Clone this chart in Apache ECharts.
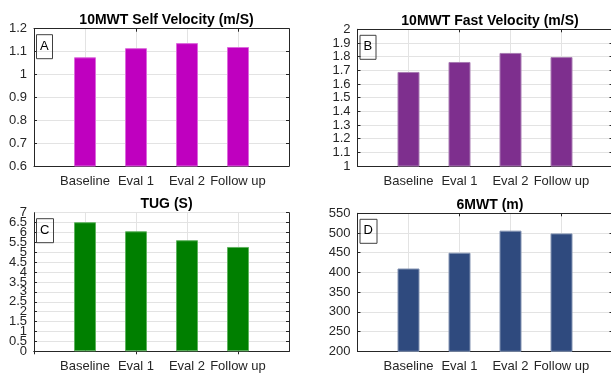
<!DOCTYPE html>
<html lang="en">
<head>
    <meta charset="UTF-8">
    <title>Outcome measures</title>
    <style>
        html, body { margin: 0; padding: 0; background: #fff; }
    </style>
</head>
<body>
    <div id="myChart" style="width: 611px;height:374px;"></div>
</body>
<script src="https://cdn.jsdelivr.net/npm/echarts@6/dist/echarts.min.js"></script>
<script>
    // data
    let categories = ['Baseline', 'Eval 1', 'Eval 2', 'Follow up'];
    let selfVelocity = [1.075, 1.115, 1.137, 1.12];
    let fastVelocity = [1.688, 1.761, 1.827, 1.797];
    let tugTime = [6.52, 6.06, 5.61, 5.27];
    let sixMwt = [410, 450, 506, 499];

    let panels = [
      { title: '10MWT Self Velocity (m/S)', tag: 'A', values: selfVelocity, color: '#bf00bf', edge: '#dc6adc',
        min: 0.6, max: 1.2, step: 0.1, left: 34, top: 28.7, height: 137.3 },
      { title: '10MWT Fast Velocity (m/S)', tag: 'B', values: fastVelocity, color: '#7e2f8e', edge: '#a97cb3',
        min: 1, max: 2, step: 0.1, left: 357.5, top: 29.3, height: 136.7 },
      { title: 'TUG (S)', tag: 'C', values: tugTime, color: '#007f00', edge: '#5fb35f',
        min: 0, max: 7, step: 0.5, left: 34, top: 212.7, height: 138.6, crowded: true },
      { title: '6MWT (m)', tag: 'D', values: sixMwt, color: '#2f4a7e', edge: '#8393b2',
        min: 200, max: 550, step: 50, left: 357.5, top: 213.3, height: 138 }
    ];

    // pad so the bars sit at 1..4 on a 0..5 span, like the original
    let xCats = [''].concat(categories, ['']);
    let textColor = '#262626';
    let gridColor = '#e3e3e3';

    let option = {
      animation: false,
      textStyle: { fontFamily: 'Liberation Sans, Arial, sans-serif' },
      title: [], grid: [], xAxis: [], yAxis: [], series: []
    };
    let extraAxes = [];

    panels.forEach(function (p, i) {
      option.grid.push({ left: p.left, top: p.top, width: 255, height: p.height, outerBoundsMode: 'none' });
      option.title.push({
        text: p.title, left: p.left + 127.5, top: p.top - 20.5, textAlign: 'center',
        textStyle: { fontSize: 14, fontWeight: 'bold', color: '#000' }
      });
      option.title.push({
        text: p.tag, left: p.left + 2, top: p.top + 5.5,
        borderColor: '#404040', borderWidth: 1, padding: [5, 4, 6, 4],
        textStyle: { fontSize: 13, fontWeight: 'normal', color: '#000', lineHeight: 14 }
      });

      let line = { show: true, lineStyle: { color: textColor, width: 1 } };
      let tick = { show: true, inside: true, length: 3, lineStyle: { color: textColor } };
      let labelStyle = { color: textColor, fontSize: 13, margin: 7, hideOverlap: false };

      option.xAxis.push({
        gridIndex: i, type: 'category', data: xCats, boundaryGap: false, position: 'bottom',
        axisLine: line, axisTick: tick,
        axisLabel: { color: textColor, fontSize: 13, margin: 9, interval: 0 },
        splitLine: { show: true, lineStyle: { color: gridColor } }
      });
      option.xAxis.push({
        gridIndex: i, type: 'category', data: xCats, boundaryGap: false, position: 'top',
        axisLine: line, axisTick: tick, axisLabel: { show: false }, splitLine: { show: false }
      });
      option.yAxis.push({
        gridIndex: i, type: 'value', position: 'left', min: p.min, max: p.max, interval: p.step,
        axisLine: line, axisTick: tick,
        axisLabel: Object.assign({}, labelStyle, { showMinLabel: !p.crowded, showMaxLabel: !p.crowded }),
        splitLine: { show: true, lineStyle: { color: gridColor } }
      });
      option.yAxis.push({
        gridIndex: i, type: 'value', position: 'right', min: p.min, max: p.max, interval: p.step,
        axisLine: line, axisTick: tick, axisLabel: { show: false }, splitLine: { show: false }
      });
      // crowded axis: ends are drawn by a second axis so ECharts doesn't drop a neighbour label
      if (p.crowded) {
        extraAxes.push({
          gridIndex: i, type: 'value', position: 'left', min: p.min, max: p.max, interval: p.max - p.min,
          axisLine: { show: false }, axisTick: { show: false }, splitLine: { show: false },
          axisLabel: Object.assign({}, labelStyle, { showMinLabel: true, showMaxLabel: true })
        });
      }

      option.series.push({
        type: 'bar', xAxisIndex: i * 2, yAxisIndex: i * 2, barWidth: 22,
        data: [null].concat(p.values, [null]),
        itemStyle: { color: p.color, borderColor: p.edge, borderWidth: 1 }
      });
    });
    option.yAxis = option.yAxis.concat(extraAxes);

    let chart = echarts.init(document.getElementById('myChart'));
    chart.setOption(option);
</script>
</html>
